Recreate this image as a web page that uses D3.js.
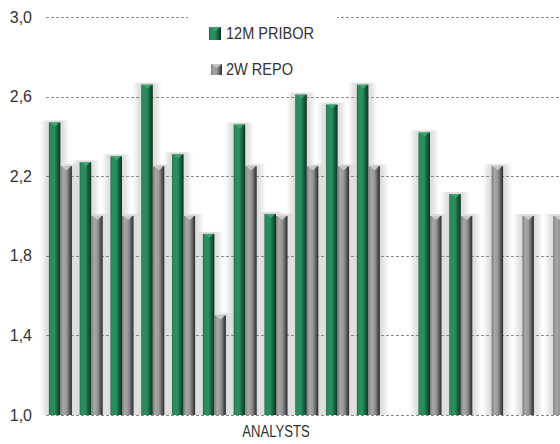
<!DOCTYPE html>
<html>
<head>
<meta charset="utf-8">
<script src="https://cdn.jsdelivr.net/npm/d3@7"></script>
<style>
  html, body { margin: 0; padding: 0; background: #fff; overflow: hidden; }
  svg { display: block; }
  text { font-family: "Liberation Sans", Arial, sans-serif; fill: #333; }
</style>
</head>
<body>
<svg id="chart" width="560" height="444"></svg>
<script>
// Analysts' forecasts: 12M PRIBOR and 2W REPO rate
const analysts = ["1","2","3","4","5","6","7","8","9","10","11","12","13","14","15","16","17"];
const pribor12m = [2.47, 2.27, 2.30, 2.66, 2.31, 1.91, 2.46, 2.01, 2.61, 2.56, 2.66, null, 2.42, 2.11, null, null, null];
const repo2w    = [2.25, 2.00, 2.00, 2.25, 2.00, 1.50, 2.25, 2.00, 2.25, 2.25, 2.25, null, 2.00, 2.00, 2.25, 2.00, 2.00];
const seriesNames = ["12M PRIBOR", "2W REPO"];
const yTicks = [1.0, 1.4, 1.8, 2.2, 2.6, 3.0];
const xTitle = "ANALYSTS";

const svg = d3.select("#chart");
const W = 560, H = 444;

const y = d3.scaleLinear().domain([1, 3]).range([415, 17]);
const x = d3.scaleBand().domain(analysts).range([45, 568.6])
  .paddingInner(0.253).paddingOuter(0.1265);
const xs = d3.scaleBand().domain(["pribor", "repo"]).range([0, x.bandwidth()]);

const czech = d3.formatLocale({decimal: ",", thousands: " ", grouping: [3], currency: ["", " Kč"]});
const fmt = czech.format(".1f");

// gradients for the rounded bar look
const defs = svg.append("defs");
function grad(id, stops, vertical) {
  const g = defs.append("linearGradient").attr("id", id)
    .attr("x1", "0%").attr("x2", vertical ? "0%" : "100%")
    .attr("y1", "0%").attr("y2", vertical ? "100%" : "0%");
  stops.forEach(([o, c, a]) => g.append("stop").attr("offset", o).attr("stop-color", c)
    .attr("stop-opacity", a == null ? 1 : a));
}
grad("gGreen", [["0%", "#17583a"], ["10%", "#2a8c5b"], ["48%", "#2b8e5d"], ["72%", "#176340"], ["100%", "#0b3520"]]);
grad("gGray", [["0%", "#7c7c7c"], ["25%", "#a8a8a8"], ["55%", "#959595"], ["80%", "#5a5a5a"], ["100%", "#2a2a2a"]]);
// soft-edged shadow fill: fades out to both sides
grad("gShadow", [["0%", "#dcdcdc", 0], ["22%", "#dcdcdc", 0.85], ["32%", "#dcdcdc", 1],
                 ["68%", "#dcdcdc", 1], ["78%", "#dcdcdc", 0.85], ["100%", "#dcdcdc", 0]]);
// fade at the shadow's top
grad("gShadowTop", [["0%", "#fff", 1], ["100%", "#fff", 0]], true);

// flatten values into bar records
const bars = [];
analysts.forEach((a, i) => {
  if (pribor12m[i] != null) bars.push({a, key: "pribor", v: pribor12m[i]});
  if (repo2w[i] != null) bars.push({a, key: "repo", v: repo2w[i]});
});
const bx = d => x(d.a) + xs(d.key);
const bw = xs.bandwidth();
const pad = 9;

// soft shadow behind the bars
svg.append("g")
  .selectAll("rect").data(bars).join("rect")
  .attr("x", d => bx(d) - pad)
  .attr("y", d => y(d.v) - 2)
  .attr("width", bw + 2 * pad)
  .attr("height", d => y(1) - y(d.v) + 2)
  .attr("fill", "url(#gShadow)");

// dashed horizontal gridlines
svg.append("g").selectAll("line").data(yTicks).join("line")
  .attr("x1", 46).attr("x2", W)
  .attr("y1", d => Math.round(y(d)) + 0.5).attr("y2", d => Math.round(y(d)) + 0.5)
  .attr("stroke", "#8c8c8c").attr("stroke-width", 1).attr("stroke-dasharray", "3,2");

// y tick labels
svg.append("g").selectAll("text").data(yTicks).join("text")
  .attr("x", 32).attr("y", d => y(d) + 5.5)
  .attr("text-anchor", "end").attr("font-size", 16)
  .text(d => fmt(d));

// bars
const gb = svg.append("g");
gb.selectAll("rect").data(bars).join("rect")
  .attr("x", bx)
  .attr("y", d => y(d.v))
  .attr("width", bw)
  .attr("height", d => y(1) - y(d.v))
  .attr("fill", d => d.key === "pribor" ? "url(#gGreen)" : "url(#gGray)");
// small bevel cap at the top of each bar
gb.selectAll("path").data(bars).join("path")
  .attr("d", d => {
    const x0 = bx(d), t = y(d.v);
    return `M${x0 + 1},${t} L${x0 + bw - 1},${t} L${x0 + bw * 0.55},${t + 4} Z`;
  })
  .attr("fill", d => d.key === "pribor" ? "#3eaa76" : "#cfcfcf")
  .attr("opacity", 0.9);

// legend
const lg = svg.append("g");
lg.append("rect").attr("x", 188).attr("y", 8).attr("width", 149).attr("height", 76).attr("fill", "#fff");
const legendItems = [
  {name: seriesNames[0], fill: "url(#gGreen)", cap: "#3eaa76", sx: 209, sy: 27, sw: 12, sh: 13, ty: 39},
  {name: seriesNames[1], fill: "url(#gGray)", cap: "#cfcfcf", sx: 211, sy: 64, sw: 11, sh: 11, ty: 75}
];
legendItems.forEach(it => {
  lg.append("rect").attr("x", it.sx).attr("y", it.sy).attr("width", it.sw).attr("height", it.sh).attr("fill", it.fill);
  lg.append("path")
    .attr("d", `M${it.sx},${it.sy} L${it.sx + it.sw},${it.sy} L${it.sx + it.sw * 0.55},${it.sy + 4} Z`)
    .attr("fill", it.cap).attr("opacity", 0.8);
  // narrowed horizontally to a Calibri-like width
  lg.append("text").attr("transform", `translate(226,${it.ty}) scale(0.91,1)`)
    .attr("font-size", 16).text(it.name);
});

// x axis title
svg.append("text").attr("transform", "translate(276,437) scale(0.82,1)")
  .attr("text-anchor", "middle").attr("font-size", 16).text(xTitle);
</script>
</body>
</html>
